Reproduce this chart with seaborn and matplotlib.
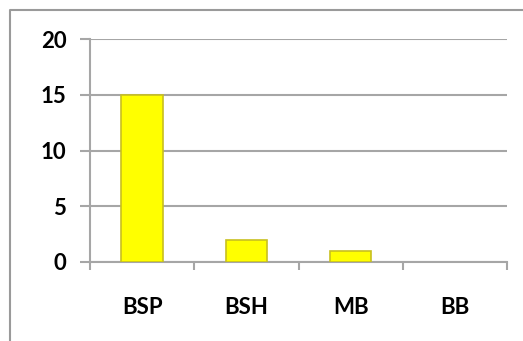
import matplotlib
matplotlib.use("Agg")
import matplotlib.pyplot as plt
from matplotlib.lines import Line2D
from matplotlib.ticker import FixedLocator
import seaborn as sns
import pandas as pd

categories = ["BSP", "BSH", "MB", "BB"]
values = [15, 2, 1, 0]
y_ticks = [0, 5, 10, 15, 20]

sns.set_theme(style="white")
plt.rcParams["font.family"] = ["Lato", "DejaVu Sans"]

df = pd.DataFrame({"cat": categories, "val": values})

W, H, DPI = 523, 341, 100
fig = plt.figure(figsize=(W / DPI, H / DPI), dpi=DPI)
ax = fig.add_axes([90 / W, 1 - 262 / H, (507 - 90) / W, (262 - 39) / H])

sns.barplot(data=df, x="cat", y="val", ax=ax, color="#FFFF00", width=0.4,
            saturation=1, edgecolor="#C8C020", linewidth=1.2, zorder=3)
# empty categories show no outline
for p in ax.patches:
    if p.get_height() == 0:
        p.set_edgecolor("none")

ax.set_xlim(-0.5, len(categories) - 0.5)
ax.set_ylim(0, 20)
ax.set_yticks(y_ticks)
ax.yaxis.grid(True, color="#A6A6A6", linewidth=1.5, zorder=0)
ax.set_axisbelow(True)

for s in ["top", "right"]:
    ax.spines[s].set_visible(False)
for s in ["left", "bottom"]:
    ax.spines[s].set_color("#A6A6A6")
    ax.spines[s].set_linewidth(1.5)

# category separators as minor ticks below the x axis
ax.xaxis.set_minor_locator(FixedLocator([i - 0.5 for i in range(len(categories) + 1)]))
ax.tick_params(axis="x", which="minor", bottom=True, length=6, width=1.5, color="#A6A6A6")
ax.tick_params(axis="x", which="major", bottom=False, length=0, pad=25,
               labelsize=16, labelcolor="black")
ax.tick_params(axis="y", left=True, length=7, width=1.5, color="#A6A6A6",
               pad=10, labelsize=16, labelcolor="black")
for lab in ax.get_xticklabels() + ax.get_yticklabels():
    lab.set_fontweight("bold")

ax.set_xlabel("")
ax.set_ylabel("")

# chart frame
fig.add_artist(Line2D([10 / W, 10 / W, 1.0], [0.0, 1 - 10 / H, 1 - 10 / H],
                      transform=fig.transFigure, color="#9A9A9A", linewidth=1.5))

fig.savefig("out.png", dpi=DPI)
